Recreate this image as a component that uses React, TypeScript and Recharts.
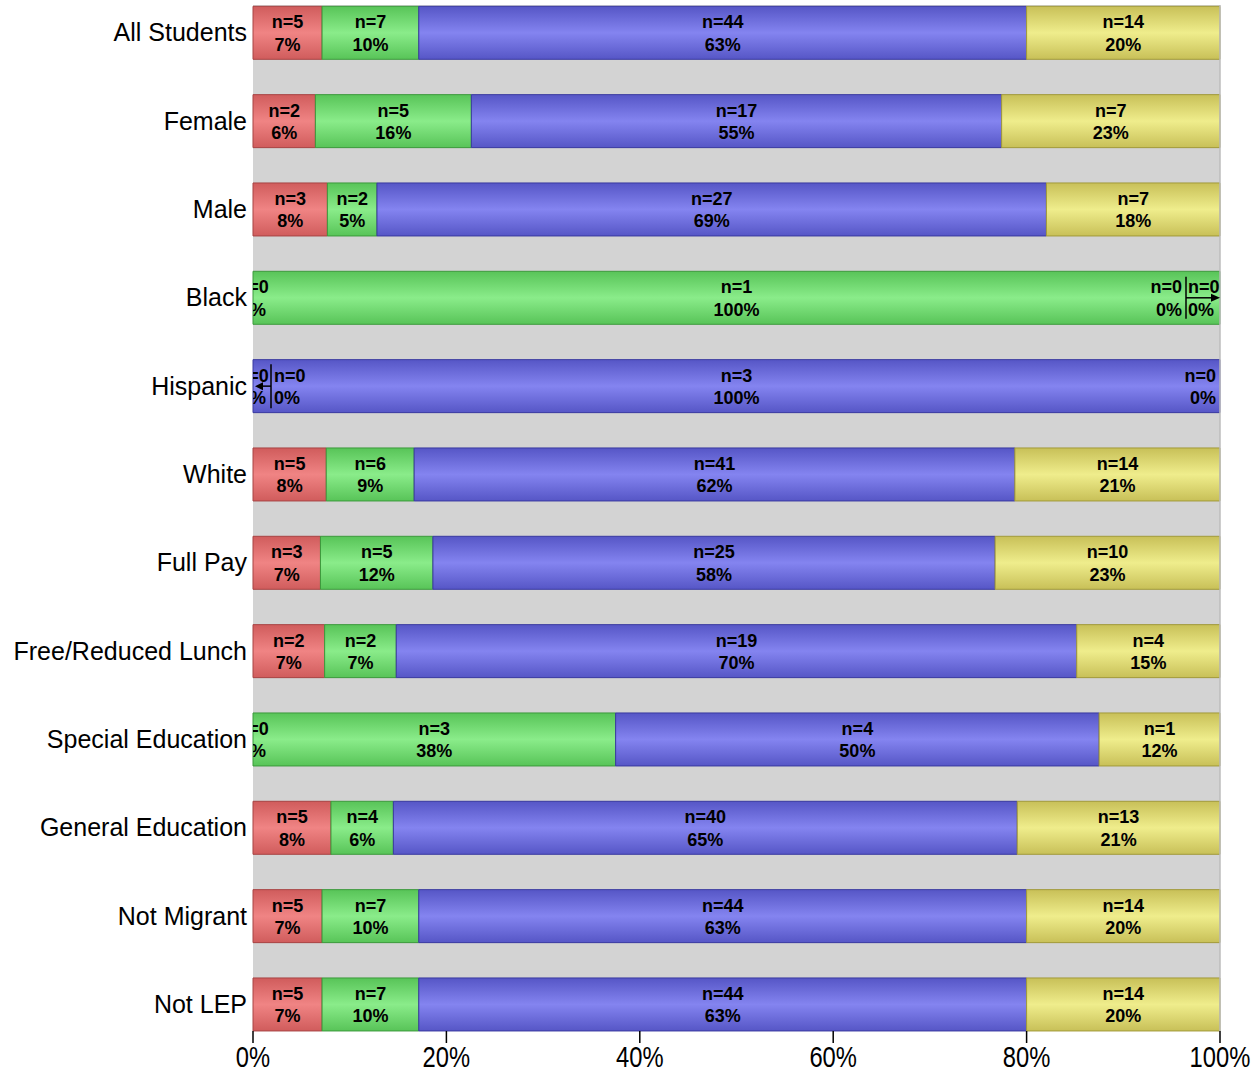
import { BarChart, Bar, XAxis, YAxis, CartesianGrid, LabelList, ReferenceLine } from 'recharts'

const groups = [
  'All Students', 'Female', 'Male', 'Black', 'Hispanic', 'White',
  'Full Pay', 'Free/Reduced Lunch', 'Special Education', 'General Education',
  'Not Migrant', 'Not LEP',
]

// counts per level
const redN = [5, 2, 3, 0, 0, 5, 3, 2, 0, 5, 5, 5]
const greenN = [7, 5, 2, 1, 0, 6, 5, 2, 3, 4, 7, 7]
const blueN = [44, 17, 27, 0, 3, 41, 25, 19, 4, 40, 44, 44]
const yellowN = [14, 7, 7, 0, 0, 14, 10, 4, 1, 13, 14, 14]

// percent labels as printed
const redPct = [7, 6, 8, 0, 0, 8, 7, 7, 0, 8, 7, 7]
const greenPct = [10, 16, 5, 100, 0, 9, 12, 7, 38, 6, 10, 10]
const bluePct = [63, 55, 69, 0, 100, 62, 58, 70, 50, 65, 63, 63]
const yellowPct = [20, 23, 18, 0, 0, 21, 23, 15, 12, 21, 20, 20]

const xTicks = [0, 0.2, 0.4, 0.6, 0.8, 1]

const counts = [redN, greenN, blueN, yellowN]
const pcts = [redPct, greenPct, bluePct, yellowPct]

const series = [
  { key: 'red', top: '#d05c5c', mid: '#f08484', line: '#a84444' },
  { key: 'green', top: '#58c458', mid: '#8aec8a', line: '#3c9a3c' },
  { key: 'blue', top: '#5656c6', mid: '#8484f0', line: '#3a3aa0' },
  { key: 'yellow', top: '#c8c058', mid: '#efed8c', line: '#a29a3a' },
]

const rows = groups.map((g, i) => ({
  group: g,
  red: redN[i],
  green: greenN[i],
  blue: blueN[i],
  yellow: yellowN[i],
}))

const labelFont = { fontFamily: 'Liberation Sans, Arial, sans-serif', fontSize: 18, fontWeight: 700, fill: '#000' }

function twoLines(tx: number, cy: number, anchor: string, n: number, p: number, key?: string) {
  return (
    <text key={key} x={tx} y={cy} textAnchor={anchor as any} {...labelFont}>
      <tspan x={tx} dy={-4.5}>n={n}</tspan>
      <tspan x={tx} dy={22.5}>{p}%</tspan>
    </text>
  )
}

// zero-size segments have no rectangle, so their labels are drawn by the
// neighbouring non-empty segment of the same row
function leftZero(k: number, i: number, x: number, y: number, h: number, cy: number) {
  const n = counts[k][i]
  const p = pcts[k][i]
  if (k === 0) {
    const id = `clip-l-${i}`
    return (
      <g key={`lz${k}`}>
        <defs>
          <clipPath id={id}>
            <rect x={x} y={y} width={200} height={h} />
          </clipPath>
        </defs>
        <g clipPath={`url(#${id})`}>{twoLines(x, cy, 'middle', n, p)}</g>
      </g>
    )
  }
  const lx = x + 18
  return (
    <g key={`lz${k}`}>
      <line x1={lx} x2={lx} y1={cy - 22} y2={cy + 22} stroke="#000" strokeWidth={1.5} />
      <line x1={lx} x2={x + 8} y1={cy} y2={cy} stroke="#000" strokeWidth={1.5} />
      <polygon points={`${x + 2},${cy} ${x + 10},${cy - 4} ${x + 10},${cy + 4}`} fill="#000" />
      {twoLines(lx + 3, cy, 'start', n, p)}
    </g>
  )
}

function rightZero(z: number, m: number, i: number, xr: number, cy: number) {
  const n = counts[z][i]
  const p = pcts[z][i]
  const r = counts.length - 1 - z
  if (r === m - 1) return twoLines(xr - 4 - (m - 1) * 34, cy, 'end', n, p, `rz${z}`)
  const lx = xr - 34
  return (
    <g key={`rz${z}`}>
      <line x1={lx} x2={lx} y1={cy - 21} y2={cy + 21} stroke="#000" strokeWidth={1.5} />
      <line x1={lx} x2={xr - 8} y1={cy} y2={cy} stroke="#000" strokeWidth={1.5} />
      <polygon points={`${xr},${cy} ${xr - 9},${cy - 4} ${xr - 9},${cy + 4}`} fill="#000" />
      {twoLines(lx + 2, cy, 'start', n, p)}
    </g>
  )
}

function makeLabel(s: number) {
  return (props: any) => {
    const vb = props.viewBox ?? props
    const x = Number(vb.x)
    const y = Number(vb.y)
    const w = Number(vb.width) || 0
    const h = Number(vb.height)
    const i = groups.indexOf(props.value)
    if (i < 0) return null
    const n = counts[s][i]
    if (n === 0) return null
    const cy = y + h / 2
    const row = counts.map(c => c[i])
    const parts: any[] = [twoLines(x + w / 2, cy, 'middle', n, pcts[s][i], 'own')]
    if (row.slice(0, s).every(v => v === 0)) {
      for (let k = 0; k < s; k++) parts.push(leftZero(k, i, x, y, h, cy))
    }
    const after = row.slice(s + 1)
    if (after.length > 0 && after.every(v => v === 0)) {
      for (let z = s + 1; z < row.length; z++) parts.push(rightZero(z, after.length, i, x + w, cy))
    }
    return <g>{parts}</g>
  }
}

function XTick(props: any) {
  const { x, y, payload } = props
  const sx = 0.82
  return (
    <text
      x={x}
      y={y}
      dy="0.71em"
      textAnchor="middle"
      fill="#000"
      fontSize={29}
      fontFamily="Liberation Sans, Arial, sans-serif"
      transform={`translate(${x * (1 - sx)},0) scale(${sx},1)`}
    >
      {`${Math.round(payload.value * 100)}%`}
    </text>
  )
}

export default function App() {
  return (
    <div style={{ position: 'absolute', left: 0, top: 0, background: '#fff' }}>
      <BarChart
        width={1253}
        height={1072}
        data={rows}
        layout="vertical"
        stackOffset="expand"
        margin={{ top: 5, right: 33, left: 0, bottom: 0 }}
      >
        <defs>
          {series.map(s => (
            <linearGradient key={s.key} id={`grad-${s.key}`} x1="0" y1="0" x2="0" y2="1">
              <stop offset="0%" stopColor={s.top} />
              <stop offset="50%" stopColor={s.mid} />
              <stop offset="100%" stopColor={s.top} />
            </linearGradient>
          ))}
        </defs>
        <CartesianGrid horizontal={false} vertical={false} fill="#d3d3d3" />
        <XAxis
          type="number"
          domain={[0, 1]}
          ticks={xTicks}
          axisLine={false}
          tickLine={{ stroke: '#000', strokeWidth: 1.5 }}
          tickSize={12}
          tickMargin={3}
          height={41}
          interval={0}
          tick={<XTick />}
        />
        <YAxis
          type="category"
          dataKey="group"
          width={253}
          axisLine={false}
          tickLine={false}
          tickSize={0}
          tickMargin={6}
          interval={0}
          padding={{ top: -16.7, bottom: -17.3 }}
          tick={{ fill: '#000', fontSize: 25, fontFamily: 'Liberation Sans, Arial, sans-serif' }}
        />
        <ReferenceLine x={1} stroke="#bcbcbc" strokeWidth={1.5} />
        {series.map((s, si) => (
          <Bar
            key={s.key}
            dataKey={s.key}
            stackId="a"
            barSize={53}
            fill={`url(#grad-${s.key})`}
            stroke={s.line}
            strokeWidth={1}
            isAnimationActive={false}
          >
            <LabelList dataKey="group" content={makeLabel(si)} />
          </Bar>
        ))}
      </BarChart>
    </div>
  )
}
